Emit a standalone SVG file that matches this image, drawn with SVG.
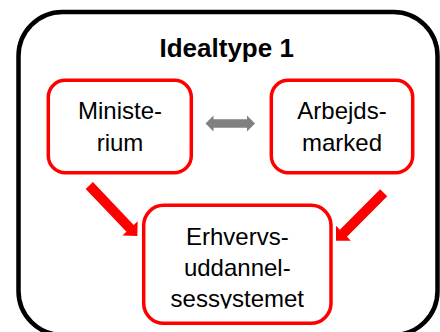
<svg xmlns="http://www.w3.org/2000/svg" width="440" height="332" viewBox="0 0 440 332">
  <style>
    .box { fill: #ffffff; stroke: #ff0000; stroke-width: 3.5; }
    .lbl { font-family: "Liberation Sans", Arial, sans-serif; font-size: 24px; fill: #000000; text-anchor: middle; }
    .title { font-family: "Liberation Sans", Arial, sans-serif; font-size: 26px; font-weight: bold; fill: #000000; text-anchor: middle; }
    .red { fill: #ff0000; }
    .gray { fill: #808080; }
  </style>
  <defs>
    <clipPath id="clipE">
      <rect x="140" y="200" width="195" height="108.5"/>
    </clipPath>
  </defs>
  <rect width="440" height="332" fill="#ffffff"/>
  <g id="frame">
    <rect x="18.5" y="12" width="419" height="323" rx="44" ry="44" fill="none" stroke="#000000" stroke-width="4.5"/>
    <text class="title" x="226.7" y="57">Idealtype 1</text>
  </g>
  <g id="connectors">
    <polygon class="gray" points="205.5,123.5 213.5,115.5 213.5,119.2 247,119.2 247,115.5 255,123.5 247,131.5 247,127.8 213.5,127.8 213.5,131.5"/>
    <polygon class="red" points="92.93,182.05 133.7,224.95 137.68,221.16 137.3,236 122.46,235.62 126.45,231.84 85.68,188.95"/>
    <polygon class="red" points="387.25,196.23 346.95,236.79 350.84,240.66 336,240.7 335.96,225.86 339.86,229.74 380.16,189.18"/>
  </g>
  <g id="ministerium">
    <rect class="box" x="48.3" y="80.3" width="143" height="92.4" rx="17" ry="17"/>
    <text class="lbl" x="120" y="119">Ministe-</text>
    <text class="lbl" x="120" y="150.7">rium</text>
  </g>
  <g id="arbejdsmarked">
    <rect class="box" x="271.3" y="80.3" width="141.4" height="92.4" rx="17" ry="17"/>
    <text class="lbl" x="342" y="119">Arbejds-</text>
    <text class="lbl" x="342" y="150.7">marked</text>
  </g>
  <g id="erhvervsuddannelsessystemet">
    <rect class="box" x="143.7" y="205.3" width="187.3" height="118" rx="20" ry="20"/>
    <g clip-path="url(#clipE)">
      <text class="lbl" x="237.3" y="245">Erhvervs-</text>
      <text class="lbl" x="237.3" y="276">uddannel-</text>
      <text class="lbl" x="237.3" y="307">sessystemet</text>
    </g>
  </g>
</svg>
